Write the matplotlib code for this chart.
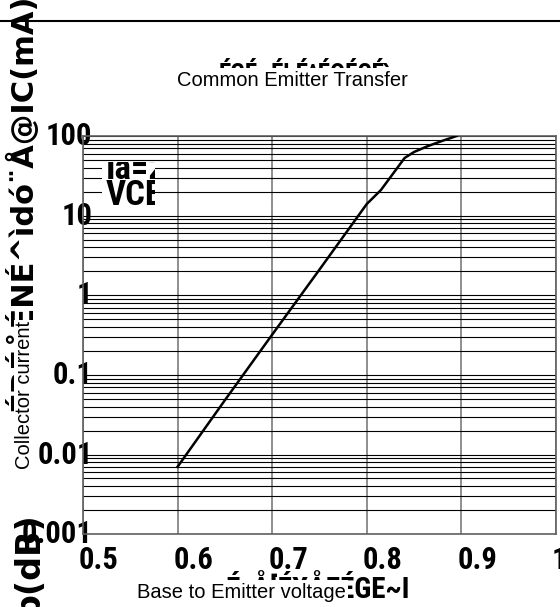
import matplotlib
matplotlib.use("Agg")
import matplotlib.pyplot as plt
from matplotlib.lines import Line2D
from matplotlib.patches import Rectangle
from matplotlib.transforms import ScaledTranslation
from matplotlib import font_manager

# base-emitter voltage (V) vs collector current (mA)
vbe = [0.6, 0.65, 0.7, 0.75, 0.8, 0.815, 0.84, 0.85, 0.865, 0.88, 0.895]
ic = [0.007, 0.048, 0.32, 2.1, 14, 21, 53, 63, 75, 87, 100]

x_ticks = [0.5, 0.6, 0.7, 0.8, 0.9, 1.0]
x_labels = ["0.5", "0.6", "0.7", "0.8", "0.9", "1"]
y_ticks = [0.001, 0.01, 0.1, 1, 10, 100]
y_labels = ["0.001", "0.01", "0.1", "1", "10", "100"]

title = "Common Emitter Transfer"
title_garbled = "ÉGÉ~ÉbÉ^ÉQÉCÉì"
xlabel = "Base to Emitter voltage"
xlabel_garbled = "ÉxÅ[ÉXÅEÉGE~I"
ylabel = "Collector current"
ylabel_garbled = "ÉRÉåÉNÉ^ìdó¨Å@IC(mA)"
legend_lines = ["Ia=2mA", "VCE=5V"]

# a narrow bold face for the numbers, if there is one
names = {f.name for f in font_manager.fontManager.ttflist}
narrow = "DejaVu Sans"
for cand in ["Liberation Sans Narrow", "Roboto Condensed", "Open Sans Condensed"]:
    if cand in names:
        narrow = cand
        break
num_font = dict(fontfamily=narrow, fontweight="bold", fontstretch="condensed")
plain = dict(fontfamily="Liberation Sans", fontsize=14.5)
wide = dict(fontfamily="DejaVu Sans", fontweight="bold")

fig = plt.figure(figsize=(5.6, 6.07), dpi=100)
ax = fig.add_axes([0.148, 0.120, 0.845, 0.656])

ax.plot(vbe, ic, color="black", linewidth=1.8, zorder=3)
ax.set_yscale("log")
ax.set_xlim(0.5, 1.0)
ax.set_ylim(0.001, 100)

ax.set_xticks(x_ticks)
ax.set_xticklabels(x_labels, fontsize=22, ha="left", **num_font)
ax.set_yticks(y_ticks)
ax.set_yticklabels(y_labels, fontsize=22, **num_font)
ax.tick_params(axis="both", which="both", length=0)
ax.tick_params(axis="x", pad=8)
ax.tick_params(axis="y", pad=-7)
for lbl in ax.get_xticklabels():
    lbl.set_transform(lbl.get_transform() + ScaledTranslation(-0.04, 0, fig.dpi_scale_trans))
for lbl in ax.get_yticklabels():
    lbl.set_transform(lbl.get_transform() + ScaledTranslation(0, 0.03, fig.dpi_scale_trans))

ax.grid(True, axis="x", which="major", color="#707070", linewidth=1.1)
ax.grid(True, axis="y", which="both", color="black", linewidth=0.8)
for s in ax.spines.values():
    s.set_color("#606060")
    s.set_linewidth(1.2)

# legend box, text cut off by its frame
box = fig.add_axes([102 / 560, 1 - 215 / 607, 53 / 560, 53 / 607])
box.set_facecolor("white")
box.set_xticks([])
box.set_yticks([])
box.set_xlim(102, 155)
box.set_ylim(215, 162)
for s in box.spines.values():
    s.set_visible(False)
for line, base in zip(legend_lines, [179, 205]):
    t = box.text(106, base, line, ha="left", va="baseline", fontsize=25, **num_font)
    t.set_clip_on(True)

# garbled overlapping title, only its top shows
fig.text(305 / 560, 1 - 60 / 607, title_garbled, ha="center", va="top", fontsize=18,
         zorder=3, **num_font)
fig.patches.append(Rectangle((168 / 560, 1 - 98 / 607), 250 / 560, 30 / 607, zorder=4,
                             transform=fig.transFigure, facecolor="white", edgecolor="none"))
fig.text(292 / 560, 1 - 80 / 607, title, ha="center", va="center", zorder=5, **plain)

fig.text(410 / 560, 1 - 571 / 607, xlabel_garbled, ha="right", va="top", fontsize=21,
         zorder=3, **num_font)
fig.text(241 / 560, 1 - 592 / 607, xlabel, ha="center", va="center", zorder=5,
         bbox=dict(facecolor="white", edgecolor="none", pad=2), **plain)

fig.text(21 / 560, 1.01, ylabel_garbled, rotation=90, ha="center", va="top",
         fontsize=22, zorder=3, **wide)
fig.text(29 / 560, -0.015, "b(dB)", rotation=90, ha="center", va="bottom",
         fontsize=24, zorder=3, **wide)
fig.text(25 / 560, 1 - 395 / 607, ylabel, rotation=90, ha="center", va="center", zorder=5,
         bbox=dict(facecolor="white", edgecolor="none", pad=1), **plain)

fig.add_artist(Line2D([0, 1], [1 - 21 / 607, 1 - 21 / 607], transform=fig.transFigure,
                      color="black", linewidth=1.5))

fig.savefig("out.png", dpi=100)
